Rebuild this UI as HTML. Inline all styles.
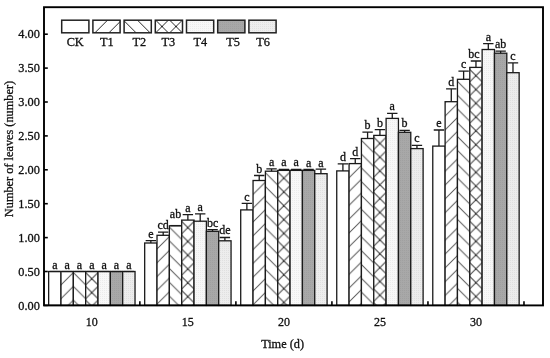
<!DOCTYPE html><html><head><meta charset="utf-8"><style>html,body{margin:0;padding:0;background:#fff;width:550px;height:358px;overflow:hidden}svg{display:block;will-change:transform}text{font-family:"Liberation Serif",serif}</style></head><body><svg width="550" height="358" viewBox="0 0 550 358">
<defs><pattern id="p1" patternUnits="userSpaceOnUse" x="11.30" y="0.00" width="13.4" height="13.4"><rect width="13.4" height="13.4" fill="#fff"/><path d="M-6.70,6.70 L6.70,-6.70 M0,13.40 L13.40,0 M6.70,20.10 L20.10,6.70 " stroke="#5a5a5a" stroke-width="1.0" fill="none"/></pattern><pattern id="p2" patternUnits="userSpaceOnUse" x="1.50" y="0.00" width="13.4" height="13.4"><rect width="13.4" height="13.4" fill="#fff"/><path d="M-6.70,6.70 L6.70,20.10 M0,0 L13.40,13.40 M6.70,-6.70 L20.10,6.70 " stroke="#5a5a5a" stroke-width="1.0" fill="none"/></pattern><pattern id="p3" patternUnits="userSpaceOnUse" x="7.00" y="0.00" width="13.8" height="13.8"><rect width="13.8" height="13.8" fill="#fff"/><path d="M-6.90,6.90 L6.90,-6.90 M0,13.80 L13.80,0 M6.90,20.70 L20.70,6.90 M-6.90,6.90 L6.90,20.70 M0,0 L13.80,13.80 M6.90,-6.90 L20.70,6.90 " stroke="#5a5a5a" stroke-width="1.0" fill="none"/></pattern><pattern id="p4" patternUnits="userSpaceOnUse" width="2" height="2"><rect width="2" height="2" fill="#f8f8f8"/><rect width="1" height="1" fill="#ececec"/></pattern><pattern id="p5" patternUnits="userSpaceOnUse" width="2" height="2"><rect width="2" height="2" fill="#a8a8a8"/><rect width="1" height="1" fill="#a0a0a0"/></pattern><pattern id="p6" patternUnits="userSpaceOnUse" width="2" height="2"><rect width="2" height="2" fill="#ededed"/><rect width="1" height="1" fill="#e0e0e0"/></pattern><pattern id="l1" patternUnits="userSpaceOnUse" x="1.70" y="0.00" width="14.0" height="14.0"><rect width="14.0" height="14.0" fill="#fff"/><path d="M-7.00,7.00 L7.00,-7.00 M0,14.00 L14.00,0 M7.00,21.00 L21.00,7.00 " stroke="#2a2a2a" stroke-width="1.0" fill="none"/></pattern><pattern id="l2" patternUnits="userSpaceOnUse" x="5.30" y="0.00" width="14.0" height="14.0"><rect width="14.0" height="14.0" fill="#fff"/><path d="M-7.00,7.00 L7.00,21.00 M0,0 L14.00,14.00 M7.00,-7.00 L21.00,7.00 " stroke="#2a2a2a" stroke-width="1.0" fill="none"/></pattern><pattern id="l3" patternUnits="userSpaceOnUse" x="155.00" y="19.50" width="14.0" height="14.0"><rect width="14.0" height="14.0" fill="#fff"/><path d="M-7.00,7.00 L7.00,-7.00 M0,14.00 L14.00,0 M7.00,21.00 L21.00,7.00 M-7.00,7.00 L7.00,21.00 M0,0 L14.00,14.00 M7.00,-7.00 L21.00,7.00 " stroke="#2a2a2a" stroke-width="1.0" fill="none"/></pattern><pattern id="h01" patternUnits="userSpaceOnUse" x="60.99" y="271.10" width="13.8" height="13.8"><rect width="13.8" height="13.8" fill="#fff"/><path d="M-6.90,6.90 L6.90,-6.90 M0,13.80 L13.80,0 M6.90,20.70 L20.70,6.90 " stroke="#5a5a5a" stroke-width="1.0" fill="none"/></pattern><pattern id="h02" patternUnits="userSpaceOnUse" x="85.67" y="271.10" width="13.8" height="13.8"><rect width="13.8" height="13.8" fill="#fff"/><path d="M-6.90,6.90 L6.90,20.70 M0,0 L13.80,13.80 M6.90,-6.90 L20.70,6.90 " stroke="#5a5a5a" stroke-width="1.0" fill="none"/></pattern><pattern id="h03" patternUnits="userSpaceOnUse" x="85.67" y="271.10" width="13.8" height="13.8"><rect width="13.8" height="13.8" fill="#fff"/><path d="M-6.90,6.90 L6.90,-6.90 M0,13.80 L13.80,0 M6.90,20.70 L20.70,6.90 M-15.26,-13.80 L26.14,27.60 M-1.46,-13.80 L39.94,27.60 M12.34,-13.80 L53.74,27.60 " stroke="#3c3c3c" stroke-width="1.0" fill="none"/></pattern><pattern id="h11" patternUnits="userSpaceOnUse" x="157.02" y="235.15" width="13.8" height="13.8"><rect width="13.8" height="13.8" fill="#fff"/><path d="M-6.90,6.90 L6.90,-6.90 M0,13.80 L13.80,0 M6.90,20.70 L20.70,6.90 " stroke="#5a5a5a" stroke-width="1.0" fill="none"/></pattern><pattern id="h12" patternUnits="userSpaceOnUse" x="181.70" y="225.65" width="13.8" height="13.8"><rect width="13.8" height="13.8" fill="#fff"/><path d="M-6.90,6.90 L6.90,20.70 M0,0 L13.80,13.80 M6.90,-6.90 L20.70,6.90 " stroke="#5a5a5a" stroke-width="1.0" fill="none"/></pattern><pattern id="h13" patternUnits="userSpaceOnUse" x="181.70" y="219.95" width="13.8" height="13.8"><rect width="13.8" height="13.8" fill="#fff"/><path d="M-6.90,6.90 L6.90,-6.90 M0,13.80 L13.80,0 M6.90,20.70 L20.70,6.90 M-15.26,-13.80 L26.14,27.60 M-1.46,-13.80 L39.94,27.60 M12.34,-13.80 L53.74,27.60 " stroke="#3c3c3c" stroke-width="1.0" fill="none"/></pattern><pattern id="h21" patternUnits="userSpaceOnUse" x="253.05" y="180.60" width="13.8" height="13.8"><rect width="13.8" height="13.8" fill="#fff"/><path d="M-6.90,6.90 L6.90,-6.90 M0,13.80 L13.80,0 M6.90,20.70 L20.70,6.90 " stroke="#5a5a5a" stroke-width="1.0" fill="none"/></pattern><pattern id="h22" patternUnits="userSpaceOnUse" x="277.73" y="171.30" width="13.8" height="13.8"><rect width="13.8" height="13.8" fill="#fff"/><path d="M-6.90,6.90 L6.90,20.70 M0,0 L13.80,13.80 M6.90,-6.90 L20.70,6.90 " stroke="#5a5a5a" stroke-width="1.0" fill="none"/></pattern><pattern id="h23" patternUnits="userSpaceOnUse" x="277.73" y="170.50" width="13.8" height="13.8"><rect width="13.8" height="13.8" fill="#fff"/><path d="M-6.90,6.90 L6.90,-6.90 M0,13.80 L13.80,0 M6.90,20.70 L20.70,6.90 M-15.26,-13.80 L26.14,27.60 M-1.46,-13.80 L39.94,27.60 M12.34,-13.80 L53.74,27.60 " stroke="#3c3c3c" stroke-width="1.0" fill="none"/></pattern><pattern id="h31" patternUnits="userSpaceOnUse" x="349.08" y="163.95" width="13.8" height="13.8"><rect width="13.8" height="13.8" fill="#fff"/><path d="M-6.90,6.90 L6.90,-6.90 M0,13.80 L13.80,0 M6.90,20.70 L20.70,6.90 " stroke="#5a5a5a" stroke-width="1.0" fill="none"/></pattern><pattern id="h32" patternUnits="userSpaceOnUse" x="373.76" y="138.85" width="13.8" height="13.8"><rect width="13.8" height="13.8" fill="#fff"/><path d="M-6.90,6.90 L6.90,20.70 M0,0 L13.80,13.80 M6.90,-6.90 L20.70,6.90 " stroke="#5a5a5a" stroke-width="1.0" fill="none"/></pattern><pattern id="h33" patternUnits="userSpaceOnUse" x="373.76" y="135.75" width="13.8" height="13.8"><rect width="13.8" height="13.8" fill="#fff"/><path d="M-6.90,6.90 L6.90,-6.90 M0,13.80 L13.80,0 M6.90,20.70 L20.70,6.90 M-15.26,-13.80 L26.14,27.60 M-1.46,-13.80 L39.94,27.60 M12.34,-13.80 L53.74,27.60 " stroke="#3c3c3c" stroke-width="1.0" fill="none"/></pattern><pattern id="h41" patternUnits="userSpaceOnUse" x="445.11" y="102.30" width="13.8" height="13.8"><rect width="13.8" height="13.8" fill="#fff"/><path d="M-6.90,6.90 L6.90,-6.90 M0,13.80 L13.80,0 M6.90,20.70 L20.70,6.90 " stroke="#5a5a5a" stroke-width="1.0" fill="none"/></pattern><pattern id="h42" patternUnits="userSpaceOnUse" x="469.79" y="79.90" width="13.8" height="13.8"><rect width="13.8" height="13.8" fill="#fff"/><path d="M-6.90,6.90 L6.90,20.70 M0,0 L13.80,13.80 M6.90,-6.90 L20.70,6.90 " stroke="#5a5a5a" stroke-width="1.0" fill="none"/></pattern><pattern id="h43" patternUnits="userSpaceOnUse" x="469.79" y="68.00" width="13.8" height="13.8"><rect width="13.8" height="13.8" fill="#fff"/><path d="M-6.90,6.90 L6.90,-6.90 M0,13.80 L13.80,0 M6.90,20.70 L20.70,6.90 M-15.26,-13.80 L26.14,27.60 M-1.46,-13.80 L39.94,27.60 M12.34,-13.80 L53.74,27.60 " stroke="#3c3c3c" stroke-width="1.0" fill="none"/></pattern></defs>
<rect width="550" height="358" fill="#fff"/>
<rect x="48.65" y="271.50" width="12.34" height="33.90" fill="#ffffff" stroke="#1a1a1a" stroke-width="1.3"/>
<path d="M49.62,271.50 H60.02" stroke="#1a1a1a" stroke-width="1.3" fill="none"/>
<text x="54.82" y="268.80" font-family="Liberation Serif" fill="#111" stroke="#111" stroke-width="0.3" font-size="12" text-anchor="middle">a</text>
<rect x="60.99" y="271.50" width="12.34" height="33.90" fill="url(#h01)" stroke="#1a1a1a" stroke-width="1.3"/>
<path d="M61.96,271.50 H72.36" stroke="#1a1a1a" stroke-width="1.3" fill="none"/>
<text x="67.16" y="268.80" font-family="Liberation Serif" fill="#111" stroke="#111" stroke-width="0.3" font-size="12" text-anchor="middle">a</text>
<rect x="73.33" y="271.50" width="12.34" height="33.90" fill="url(#h02)" stroke="#1a1a1a" stroke-width="1.3"/>
<path d="M74.30,271.50 H84.70" stroke="#1a1a1a" stroke-width="1.3" fill="none"/>
<text x="79.50" y="268.80" font-family="Liberation Serif" fill="#111" stroke="#111" stroke-width="0.3" font-size="12" text-anchor="middle">a</text>
<rect x="85.67" y="271.50" width="12.34" height="33.90" fill="url(#h03)" stroke="#1a1a1a" stroke-width="1.3"/>
<path d="M86.64,271.50 H97.04" stroke="#1a1a1a" stroke-width="1.3" fill="none"/>
<text x="91.84" y="268.80" font-family="Liberation Serif" fill="#111" stroke="#111" stroke-width="0.3" font-size="12" text-anchor="middle">a</text>
<rect x="98.01" y="271.50" width="12.34" height="33.90" fill="url(#p4)" stroke="#1a1a1a" stroke-width="1.3"/>
<path d="M98.98,271.50 H109.38" stroke="#1a1a1a" stroke-width="1.3" fill="none"/>
<text x="104.18" y="268.80" font-family="Liberation Serif" fill="#111" stroke="#111" stroke-width="0.3" font-size="12" text-anchor="middle">a</text>
<rect x="110.35" y="271.50" width="12.34" height="33.90" fill="url(#p5)" stroke="#1a1a1a" stroke-width="1.3"/>
<path d="M111.32,271.50 H121.72" stroke="#1a1a1a" stroke-width="1.3" fill="none"/>
<text x="116.52" y="268.80" font-family="Liberation Serif" fill="#111" stroke="#111" stroke-width="0.3" font-size="12" text-anchor="middle">a</text>
<rect x="122.69" y="271.50" width="12.34" height="33.90" fill="url(#p6)" stroke="#1a1a1a" stroke-width="1.3"/>
<path d="M123.66,271.50 H134.06" stroke="#1a1a1a" stroke-width="1.3" fill="none"/>
<text x="128.86" y="268.80" font-family="Liberation Serif" fill="#111" stroke="#111" stroke-width="0.3" font-size="12" text-anchor="middle">a</text>
<rect x="144.68" y="243.00" width="12.34" height="62.40" fill="#ffffff" stroke="#1a1a1a" stroke-width="1.3"/>
<path d="M150.85,243.00 V240.70 M145.65,240.70 H156.05" stroke="#1a1a1a" stroke-width="1.3" fill="none"/>
<text x="150.85" y="237.70" font-family="Liberation Serif" fill="#111" stroke="#111" stroke-width="0.3" font-size="12" text-anchor="middle">e</text>
<rect x="157.02" y="235.30" width="12.34" height="70.10" fill="url(#h11)" stroke="#1a1a1a" stroke-width="1.3"/>
<path d="M163.19,235.30 V232.20 M157.99,232.20 H168.39" stroke="#1a1a1a" stroke-width="1.3" fill="none"/>
<text x="163.19" y="228.90" font-family="Liberation Serif" fill="#111" stroke="#111" stroke-width="0.3" font-size="12" text-anchor="middle">cd</text>
<rect x="169.36" y="225.80" width="12.34" height="79.60" fill="url(#h12)" stroke="#1a1a1a" stroke-width="1.3"/>
<path d="M170.33,225.60 H180.73" stroke="#1a1a1a" stroke-width="1.3" fill="none"/>
<text x="175.53" y="218.00" font-family="Liberation Serif" fill="#111" stroke="#111" stroke-width="0.3" font-size="12" text-anchor="middle">ab</text>
<rect x="181.70" y="220.10" width="12.34" height="85.30" fill="url(#h13)" stroke="#1a1a1a" stroke-width="1.3"/>
<path d="M187.87,220.10 V214.60 M182.67,214.60 H193.07" stroke="#1a1a1a" stroke-width="1.3" fill="none"/>
<text x="187.87" y="211.60" font-family="Liberation Serif" fill="#111" stroke="#111" stroke-width="0.3" font-size="12" text-anchor="middle">a</text>
<rect x="194.04" y="221.20" width="12.34" height="84.20" fill="url(#p4)" stroke="#1a1a1a" stroke-width="1.3"/>
<path d="M200.21,221.20 V213.80 M195.01,213.80 H205.41" stroke="#1a1a1a" stroke-width="1.3" fill="none"/>
<text x="200.21" y="210.80" font-family="Liberation Serif" fill="#111" stroke="#111" stroke-width="0.3" font-size="12" text-anchor="middle">a</text>
<rect x="206.38" y="231.30" width="12.34" height="74.10" fill="url(#p5)" stroke="#1a1a1a" stroke-width="1.3"/>
<path d="M212.55,231.30 V229.70 M207.35,229.70 H217.75" stroke="#1a1a1a" stroke-width="1.3" fill="none"/>
<text x="212.55" y="226.60" font-family="Liberation Serif" fill="#111" stroke="#111" stroke-width="0.3" font-size="12" text-anchor="middle">bc</text>
<rect x="218.72" y="240.80" width="12.34" height="64.60" fill="url(#p6)" stroke="#1a1a1a" stroke-width="1.3"/>
<path d="M224.89,240.80 V237.50 M219.69,237.50 H230.09" stroke="#1a1a1a" stroke-width="1.3" fill="none"/>
<text x="224.89" y="233.70" font-family="Liberation Serif" fill="#111" stroke="#111" stroke-width="0.3" font-size="12" text-anchor="middle">de</text>
<rect x="240.71" y="209.90" width="12.34" height="95.50" fill="#ffffff" stroke="#1a1a1a" stroke-width="1.3"/>
<path d="M246.88,209.90 V203.40 M241.68,203.40 H252.08" stroke="#1a1a1a" stroke-width="1.3" fill="none"/>
<text x="246.88" y="200.90" font-family="Liberation Serif" fill="#111" stroke="#111" stroke-width="0.3" font-size="12" text-anchor="middle">c</text>
<rect x="253.05" y="180.50" width="12.34" height="124.90" fill="url(#h21)" stroke="#1a1a1a" stroke-width="1.3"/>
<path d="M259.22,180.50 V175.50 M254.02,175.50 H264.42" stroke="#1a1a1a" stroke-width="1.3" fill="none"/>
<text x="259.22" y="172.50" font-family="Liberation Serif" fill="#111" stroke="#111" stroke-width="0.3" font-size="12" text-anchor="middle">b</text>
<rect x="265.39" y="171.20" width="12.34" height="134.20" fill="url(#h22)" stroke="#1a1a1a" stroke-width="1.3"/>
<path d="M271.56,171.20 V168.90 M266.36,168.90 H276.76" stroke="#1a1a1a" stroke-width="1.3" fill="none"/>
<text x="271.56" y="166.20" font-family="Liberation Serif" fill="#111" stroke="#111" stroke-width="0.3" font-size="12" text-anchor="middle">a</text>
<rect x="277.73" y="170.40" width="12.34" height="135.00" fill="url(#h23)" stroke="#1a1a1a" stroke-width="1.3"/>
<path d="M283.90,170.40 V169.50 M278.70,169.50 H289.10" stroke="#1a1a1a" stroke-width="1.3" fill="none"/>
<text x="283.90" y="166.20" font-family="Liberation Serif" fill="#111" stroke="#111" stroke-width="0.3" font-size="12" text-anchor="middle">a</text>
<rect x="290.07" y="170.40" width="12.34" height="135.00" fill="url(#p4)" stroke="#1a1a1a" stroke-width="1.3"/>
<path d="M296.24,170.40 V169.50 M291.04,169.50 H301.44" stroke="#1a1a1a" stroke-width="1.3" fill="none"/>
<text x="296.24" y="166.20" font-family="Liberation Serif" fill="#111" stroke="#111" stroke-width="0.3" font-size="12" text-anchor="middle">a</text>
<rect x="302.41" y="170.40" width="12.34" height="135.00" fill="url(#p5)" stroke="#1a1a1a" stroke-width="1.3"/>
<path d="M308.58,170.40 V169.50 M303.38,169.50 H313.78" stroke="#1a1a1a" stroke-width="1.3" fill="none"/>
<text x="308.58" y="166.80" font-family="Liberation Serif" fill="#111" stroke="#111" stroke-width="0.3" font-size="12" text-anchor="middle">a</text>
<rect x="314.75" y="173.70" width="12.34" height="131.70" fill="url(#p6)" stroke="#1a1a1a" stroke-width="1.3"/>
<path d="M320.92,173.70 V169.20 M315.72,169.20 H326.12" stroke="#1a1a1a" stroke-width="1.3" fill="none"/>
<text x="320.92" y="166.60" font-family="Liberation Serif" fill="#111" stroke="#111" stroke-width="0.3" font-size="12" text-anchor="middle">a</text>
<rect x="336.74" y="170.90" width="12.34" height="134.50" fill="#ffffff" stroke="#1a1a1a" stroke-width="1.3"/>
<path d="M342.91,170.90 V163.80 M337.71,163.80 H348.11" stroke="#1a1a1a" stroke-width="1.3" fill="none"/>
<text x="342.91" y="160.80" font-family="Liberation Serif" fill="#111" stroke="#111" stroke-width="0.3" font-size="12" text-anchor="middle">d</text>
<rect x="349.08" y="163.60" width="12.34" height="141.80" fill="url(#h31)" stroke="#1a1a1a" stroke-width="1.3"/>
<path d="M355.25,163.60 V158.60 M350.05,158.60 H360.45" stroke="#1a1a1a" stroke-width="1.3" fill="none"/>
<text x="355.25" y="155.60" font-family="Liberation Serif" fill="#111" stroke="#111" stroke-width="0.3" font-size="12" text-anchor="middle">d</text>
<rect x="361.42" y="138.50" width="12.34" height="166.90" fill="url(#h32)" stroke="#1a1a1a" stroke-width="1.3"/>
<path d="M367.59,138.50 V132.10 M362.39,132.10 H372.79" stroke="#1a1a1a" stroke-width="1.3" fill="none"/>
<text x="367.59" y="129.10" font-family="Liberation Serif" fill="#111" stroke="#111" stroke-width="0.3" font-size="12" text-anchor="middle">b</text>
<rect x="373.76" y="135.40" width="12.34" height="170.00" fill="url(#h33)" stroke="#1a1a1a" stroke-width="1.3"/>
<path d="M379.93,135.40 V129.70 M374.73,129.70 H385.13" stroke="#1a1a1a" stroke-width="1.3" fill="none"/>
<text x="379.93" y="126.70" font-family="Liberation Serif" fill="#111" stroke="#111" stroke-width="0.3" font-size="12" text-anchor="middle">b</text>
<rect x="386.10" y="118.40" width="12.34" height="187.00" fill="url(#p4)" stroke="#1a1a1a" stroke-width="1.3"/>
<path d="M392.27,118.40 V113.40 M387.07,113.40 H397.47" stroke="#1a1a1a" stroke-width="1.3" fill="none"/>
<text x="392.27" y="110.40" font-family="Liberation Serif" fill="#111" stroke="#111" stroke-width="0.3" font-size="12" text-anchor="middle">a</text>
<rect x="398.44" y="132.30" width="12.34" height="173.10" fill="url(#p5)" stroke="#1a1a1a" stroke-width="1.3"/>
<path d="M404.61,132.30 V130.30 M399.41,130.30 H409.81" stroke="#1a1a1a" stroke-width="1.3" fill="none"/>
<text x="404.61" y="127.30" font-family="Liberation Serif" fill="#111" stroke="#111" stroke-width="0.3" font-size="12" text-anchor="middle">b</text>
<rect x="410.78" y="148.60" width="12.34" height="156.80" fill="url(#p6)" stroke="#1a1a1a" stroke-width="1.3"/>
<path d="M416.95,148.60 V145.30 M411.75,145.30 H422.15" stroke="#1a1a1a" stroke-width="1.3" fill="none"/>
<text x="416.95" y="142.30" font-family="Liberation Serif" fill="#111" stroke="#111" stroke-width="0.3" font-size="12" text-anchor="middle">c</text>
<rect x="432.77" y="146.10" width="12.34" height="159.30" fill="#ffffff" stroke="#1a1a1a" stroke-width="1.3"/>
<path d="M438.94,146.10 V130.00 M433.74,130.00 H444.14" stroke="#1a1a1a" stroke-width="1.3" fill="none"/>
<text x="438.94" y="127.00" font-family="Liberation Serif" fill="#111" stroke="#111" stroke-width="0.3" font-size="12" text-anchor="middle">e</text>
<rect x="445.11" y="101.70" width="12.34" height="203.70" fill="url(#h41)" stroke="#1a1a1a" stroke-width="1.3"/>
<path d="M451.28,101.70 V88.80 M446.08,88.80 H456.48" stroke="#1a1a1a" stroke-width="1.3" fill="none"/>
<text x="451.28" y="85.80" font-family="Liberation Serif" fill="#111" stroke="#111" stroke-width="0.3" font-size="12" text-anchor="middle">d</text>
<rect x="457.45" y="79.30" width="12.34" height="226.10" fill="url(#h42)" stroke="#1a1a1a" stroke-width="1.3"/>
<path d="M463.62,79.30 V71.20 M458.42,71.20 H468.82" stroke="#1a1a1a" stroke-width="1.3" fill="none"/>
<text x="463.62" y="68.20" font-family="Liberation Serif" fill="#111" stroke="#111" stroke-width="0.3" font-size="12" text-anchor="middle">c</text>
<rect x="469.79" y="67.40" width="12.34" height="238.00" fill="url(#h43)" stroke="#1a1a1a" stroke-width="1.3"/>
<path d="M475.96,67.40 V61.00 M470.76,61.00 H481.16" stroke="#1a1a1a" stroke-width="1.3" fill="none"/>
<text x="473.96" y="58.00" font-family="Liberation Serif" fill="#111" stroke="#111" stroke-width="0.3" font-size="12" text-anchor="middle">bc</text>
<rect x="482.13" y="49.50" width="12.34" height="255.90" fill="url(#p4)" stroke="#1a1a1a" stroke-width="1.3"/>
<path d="M488.30,49.50 V43.60 M483.10,43.60 H493.50" stroke="#1a1a1a" stroke-width="1.3" fill="none"/>
<text x="488.30" y="40.60" font-family="Liberation Serif" fill="#111" stroke="#111" stroke-width="0.3" font-size="12" text-anchor="middle">a</text>
<rect x="494.47" y="53.20" width="12.34" height="252.20" fill="url(#p5)" stroke="#1a1a1a" stroke-width="1.3"/>
<path d="M500.64,53.20 V51.10 M495.44,51.10 H505.84" stroke="#1a1a1a" stroke-width="1.3" fill="none"/>
<text x="500.64" y="48.10" font-family="Liberation Serif" fill="#111" stroke="#111" stroke-width="0.3" font-size="12" text-anchor="middle">ab</text>
<rect x="506.81" y="72.70" width="12.34" height="232.70" fill="url(#p6)" stroke="#1a1a1a" stroke-width="1.3"/>
<path d="M512.98,72.70 V62.90 M507.78,62.90 H518.18" stroke="#1a1a1a" stroke-width="1.3" fill="none"/>
<text x="512.98" y="59.90" font-family="Liberation Serif" fill="#111" stroke="#111" stroke-width="0.3" font-size="12" text-anchor="middle">c</text>
<rect x="44.00" y="7.20" width="499.00" height="298.20" fill="none" stroke="#000" stroke-width="1.9"/>
<path d="M44.00,305.40 H47.80" stroke="#000" stroke-width="1.6"/>
<text x="39.8" y="309.60" font-family="Liberation Serif" fill="#111" stroke="#111" stroke-width="0.3" font-size="12.3" text-anchor="end">0.00</text>
<path d="M44.00,271.50 H47.80" stroke="#000" stroke-width="1.6"/>
<text x="39.8" y="275.70" font-family="Liberation Serif" fill="#111" stroke="#111" stroke-width="0.3" font-size="12.3" text-anchor="end">0.50</text>
<path d="M44.00,237.60 H47.80" stroke="#000" stroke-width="1.6"/>
<text x="39.8" y="241.80" font-family="Liberation Serif" fill="#111" stroke="#111" stroke-width="0.3" font-size="12.3" text-anchor="end">1.00</text>
<path d="M44.00,203.70 H47.80" stroke="#000" stroke-width="1.6"/>
<text x="39.8" y="207.90" font-family="Liberation Serif" fill="#111" stroke="#111" stroke-width="0.3" font-size="12.3" text-anchor="end">1.50</text>
<path d="M44.00,169.80 H47.80" stroke="#000" stroke-width="1.6"/>
<text x="39.8" y="174.00" font-family="Liberation Serif" fill="#111" stroke="#111" stroke-width="0.3" font-size="12.3" text-anchor="end">2.00</text>
<path d="M44.00,135.90 H47.80" stroke="#000" stroke-width="1.6"/>
<text x="39.8" y="140.10" font-family="Liberation Serif" fill="#111" stroke="#111" stroke-width="0.3" font-size="12.3" text-anchor="end">2.50</text>
<path d="M44.00,102.00 H47.80" stroke="#000" stroke-width="1.6"/>
<text x="39.8" y="106.20" font-family="Liberation Serif" fill="#111" stroke="#111" stroke-width="0.3" font-size="12.3" text-anchor="end">3.00</text>
<path d="M44.00,68.10 H47.80" stroke="#000" stroke-width="1.6"/>
<text x="39.8" y="72.30" font-family="Liberation Serif" fill="#111" stroke="#111" stroke-width="0.3" font-size="12.3" text-anchor="end">3.50</text>
<path d="M44.00,34.20 H47.80" stroke="#000" stroke-width="1.6"/>
<text x="39.8" y="38.40" font-family="Liberation Serif" fill="#111" stroke="#111" stroke-width="0.3" font-size="12.3" text-anchor="end">4.00</text>
<path d="M139.86,305.40 V301.20" stroke="#000" stroke-width="1.6"/>
<path d="M235.89,305.40 V301.20" stroke="#000" stroke-width="1.6"/>
<path d="M331.92,305.40 V301.20" stroke="#000" stroke-width="1.6"/>
<path d="M427.95,305.40 V301.20" stroke="#000" stroke-width="1.6"/>
<path d="M523.98,305.40 V301.20" stroke="#000" stroke-width="1.6"/>
<text x="91.84" y="325.7" font-family="Liberation Serif" fill="#111" stroke="#111" stroke-width="0.3" font-size="12" text-anchor="middle">10</text>
<text x="187.87" y="325.7" font-family="Liberation Serif" fill="#111" stroke="#111" stroke-width="0.3" font-size="12" text-anchor="middle">15</text>
<text x="283.90" y="325.7" font-family="Liberation Serif" fill="#111" stroke="#111" stroke-width="0.3" font-size="12" text-anchor="middle">20</text>
<text x="379.93" y="325.7" font-family="Liberation Serif" fill="#111" stroke="#111" stroke-width="0.3" font-size="12" text-anchor="middle">25</text>
<text x="475.96" y="325.7" font-family="Liberation Serif" fill="#111" stroke="#111" stroke-width="0.3" font-size="12" text-anchor="middle">30</text>
<text x="282.6" y="348.4" font-family="Liberation Serif" fill="#111" stroke="#111" stroke-width="0.3" font-size="12.3" text-anchor="middle">Time (d)</text>
<text transform="translate(13.4,149) rotate(-90)" x="0" y="0" font-family="Liberation Serif" fill="#111" stroke="#111" stroke-width="0.3" font-size="12.3" text-anchor="middle">Number of leaves (number)</text>
<rect x="61.70" y="20.2" width="27.2" height="12.6" fill="#ffffff" stroke="#222" stroke-width="1.5"/>
<text x="75.20" y="45.6" font-family="Liberation Serif" fill="#111" stroke="#111" stroke-width="0.3" font-size="12.3" text-anchor="middle">CK</text>
<rect x="92.90" y="20.2" width="27.2" height="12.6" fill="url(#l1)" stroke="#222" stroke-width="1.5"/>
<text x="106.90" y="45.6" font-family="Liberation Serif" fill="#111" stroke="#111" stroke-width="0.3" font-size="12.3" text-anchor="middle">T1</text>
<rect x="124.10" y="20.2" width="27.2" height="12.6" fill="url(#l2)" stroke="#222" stroke-width="1.5"/>
<text x="139.40" y="45.6" font-family="Liberation Serif" fill="#111" stroke="#111" stroke-width="0.3" font-size="12.3" text-anchor="middle">T2</text>
<rect x="155.30" y="20.2" width="27.2" height="12.6" fill="url(#l3)" stroke="#222" stroke-width="1.5"/>
<text x="168.30" y="45.6" font-family="Liberation Serif" fill="#111" stroke="#111" stroke-width="0.3" font-size="12.3" text-anchor="middle">T3</text>
<rect x="186.50" y="20.2" width="27.2" height="12.6" fill="url(#p4)" stroke="#222" stroke-width="1.5"/>
<text x="200.30" y="45.6" font-family="Liberation Serif" fill="#111" stroke="#111" stroke-width="0.3" font-size="12.3" text-anchor="middle">T4</text>
<rect x="217.70" y="20.2" width="27.2" height="12.6" fill="url(#p5)" stroke="#222" stroke-width="1.5"/>
<text x="233.20" y="45.6" font-family="Liberation Serif" fill="#111" stroke="#111" stroke-width="0.3" font-size="12.3" text-anchor="middle">T5</text>
<rect x="248.90" y="20.2" width="27.2" height="12.6" fill="url(#p6)" stroke="#222" stroke-width="1.5"/>
<text x="263.00" y="45.6" font-family="Liberation Serif" fill="#111" stroke="#111" stroke-width="0.3" font-size="12.3" text-anchor="middle">T6</text>
</svg></body></html>
